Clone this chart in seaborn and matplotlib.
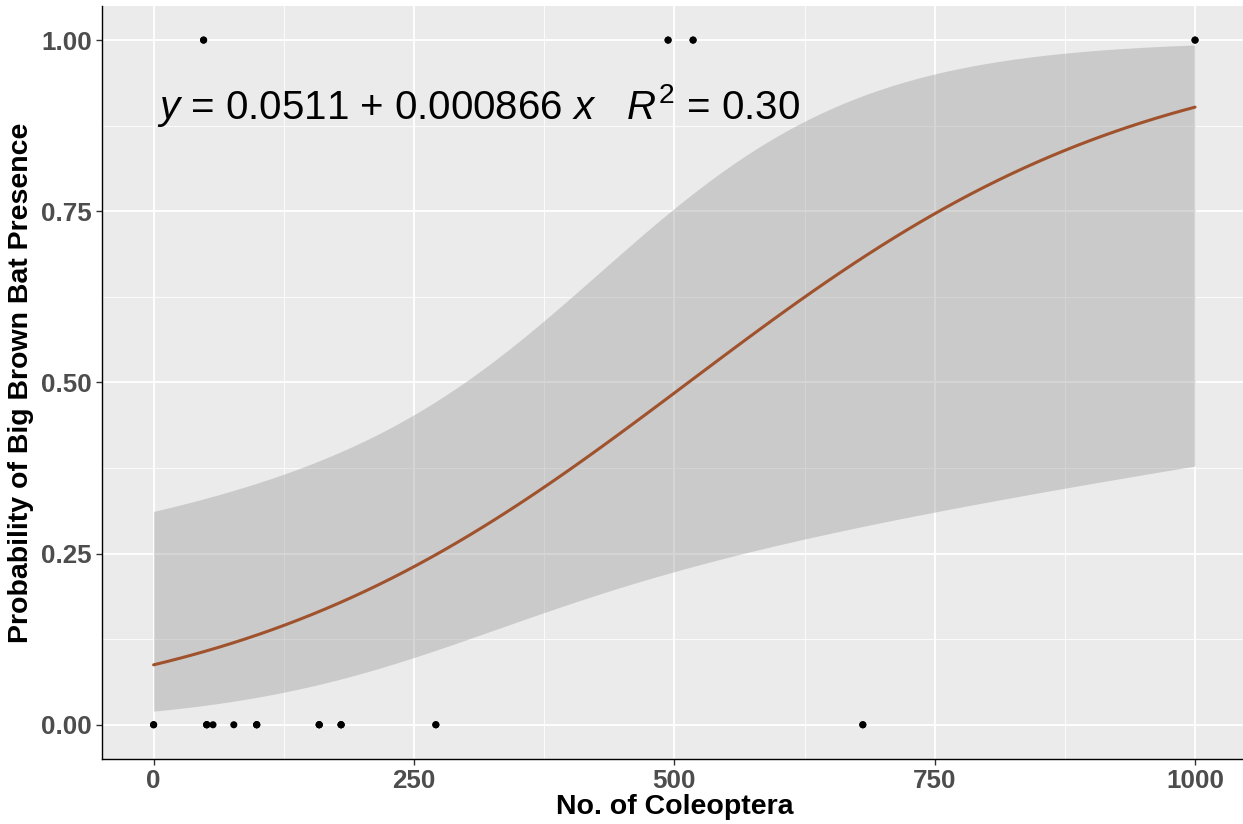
import numpy as np
import pandas as pd
import matplotlib
matplotlib.use("Agg")
import matplotlib.pyplot as plt
import seaborn as sns

# Data (overlapping points repeated)
coleoptera_absent = [0, 0, 51, 51, 51, 57, 77, 99, 99, 99, 159, 159, 159,
                     180, 180, 180, 271, 271, 681, 681]
coleoptera_present = [48, 48, 494, 494, 518, 518, 1000, 1000]
x_ticks = [0, 250, 500, 750, 1000]
y_ticks = [0.00, 0.25, 0.50, 0.75, 1.00]
y_tick_labels = ["0.00", "0.25", "0.50", "0.75", "1.00"]
equation_text = r"$y$ = 0.0511 + 0.000866 $x$   $R^2$ = 0.30"

df = pd.DataFrame({
    "coleoptera": coleoptera_absent + coleoptera_present,
    "presence": [0] * len(coleoptera_absent) + [1] * len(coleoptera_present),
})

# Logistic regression (binomial GLM) fit via IRLS, CI on link scale
X = np.column_stack([np.ones(len(df)), df["coleoptera"].values.astype(float)])
yv = df["presence"].values.astype(float)
b = np.zeros(2)
for _ in range(100):
    eta = X @ b
    p = 1 / (1 + np.exp(-eta))
    W = p * (1 - p)
    z = eta + (yv - p) / W
    XtWX = X.T @ (X * W[:, None])
    b_new = np.linalg.solve(XtWX, X.T @ (W * z))
    if np.max(np.abs(b_new - b)) < 1e-10:
        b = b_new
        break
    b = b_new
eta = X @ b
p = 1 / (1 + np.exp(-eta))
cov = np.linalg.inv(X.T @ (X * (p * (1 - p))[:, None]))

xs = np.linspace(df["coleoptera"].min(), df["coleoptera"].max(), 80)
Xs = np.column_stack([np.ones_like(xs), xs])
fit = Xs @ b
se = np.sqrt(np.einsum("ij,jk,ik->i", Xs, cov, Xs))
inv = lambda t: 1 / (1 + np.exp(-t))
pred = pd.DataFrame({"x": xs, "fit": inv(fit),
                     "lo": inv(fit - 1.959964 * se), "hi": inv(fit + 1.959964 * se)})

sns.set_theme(style="darkgrid")
plt.rcParams["font.family"] = ["Liberation Sans", "DejaVu Sans"]
plt.rcParams["mathtext.fontset"] = "custom"
plt.rcParams["mathtext.rm"] = "Liberation Sans"
plt.rcParams["mathtext.it"] = "Liberation Sans:italic"

fig = plt.figure(figsize=(12.43, 8.24), dpi=100)
ax = fig.add_axes([0.0817, 0.0789, 0.9216, 0.914])
ax.set_facecolor("#EBEBEB")

ax.fill_between(pred["x"], pred["lo"], pred["hi"], color="#999999", alpha=0.4, linewidth=0, zorder=2)
sns.lineplot(data=pred, x="x", y="fit", ax=ax, color="#A0522D", linewidth=2.2, zorder=3)
sns.scatterplot(data=df, x="coleoptera", y="presence", ax=ax, color="black", s=26,
                edgecolor="none", zorder=4)

ax.set_xlim(-50, 1050)
ax.set_ylim(-0.05, 1.05)
ax.set_xticks(x_ticks)
ax.set_xticklabels([str(t) for t in x_ticks])
ax.set_yticks(y_ticks)
ax.set_yticklabels(y_tick_labels)
ax.set_xticks([125, 375, 625, 875], minor=True)
ax.set_yticks([0.125, 0.375, 0.625, 0.875], minor=True)
ax.grid(which="major", color="white", linewidth=1.3)
ax.grid(which="minor", color="white", linewidth=0.6)
ax.set_axisbelow(True)

for s in ["top", "right"]:
    ax.spines[s].set_visible(False)
for s in ["left", "bottom"]:
    ax.spines[s].set_visible(True)
    ax.spines[s].set_color("black")
    ax.spines[s].set_linewidth(1.0)

ax.tick_params(axis="both", which="major", length=4, width=1, color="#333333",
               labelsize=18.7, labelcolor="#4D4D4D", pad=3, bottom=True, left=True)
ax.tick_params(axis="both", which="minor", length=0)
for lab in ax.get_xticklabels() + ax.get_yticklabels():
    lab.set_fontweight("bold")

ax.set_xlabel("No. of Coleoptera", fontsize=20.5, fontweight="bold", color="black", labelpad=1)
ax.set_ylabel("Probability of Big Brown Bat Presence", fontsize=20.5, fontweight="bold",
              color="black", labelpad=5)

ax.text(3, 0.885, equation_text, fontsize=29, color="black", ha="left", va="baseline")

fig.savefig("out.png", dpi=100)
